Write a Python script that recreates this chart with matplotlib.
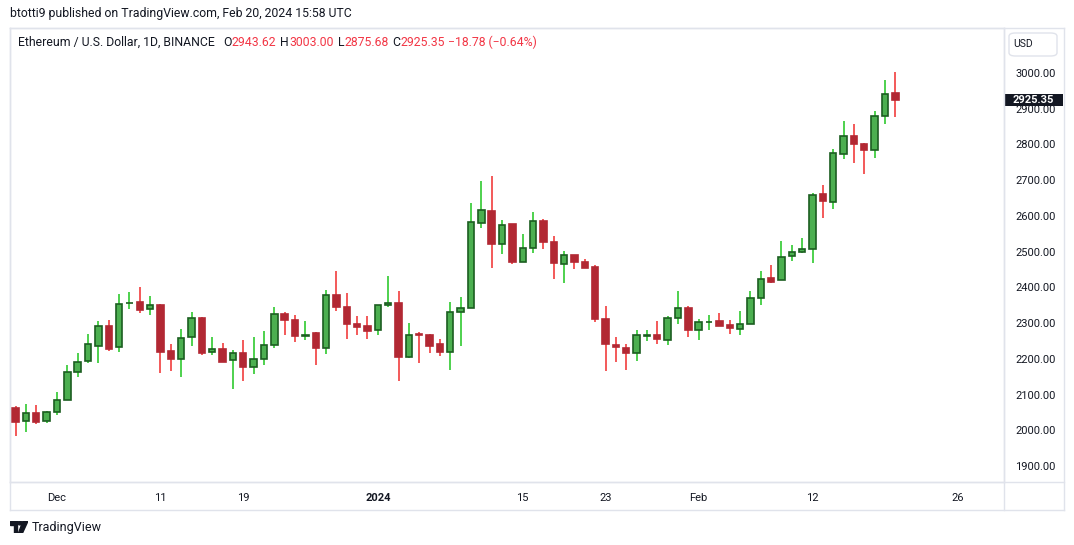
import numpy as np
import pandas as pd
import matplotlib
matplotlib.use('Agg')
import matplotlib.pyplot as plt
import matplotlib.dates as mdates
from matplotlib.patches import Rectangle, FancyBboxPatch, Circle, Polygon
from matplotlib.lines import Line2D

plt.rcParams['font.family'] = ['Roboto', 'DejaVu Sans']

# daily candles, Nov 27 2023 .. Feb 20 2024
dates = pd.date_range('2023-11-27', '2024-02-20', freq='D')

opens = [2061.4, 2025.0, 2047.4, 2025.0, 2050.2, 2083.8, 2162.2, 2193.0, 2234.9, 2290.9,
         2232.1, 2355.0, 2358.1, 2338.5, 2349.7, 2221.0, 2198.5, 2260.1, 2313.3, 2218.1,
         2226.5, 2195.8, 2215.4, 2176.2, 2198.6, 2237.8, 2324.5, 2307.7, 2262.9, 2271.3,
         2229.4, 2377.7, 2344.1, 2296.5, 2290.9, 2279.7, 2349.7, 2355.3, 2206.0, 2268.5,
         2265.7, 2240.5, 2218.2, 2330.1, 2341.3, 2579.2, 2612.8, 2520.4, 2576.4, 2470.1,
         2509.3, 2584.8, 2526.0, 2464.5, 2489.6, 2470.1, 2456.1, 2310.5, 2237.7, 2229.4,
         2215.4, 2265.0, 2265.7, 2251.7, 2313.3, 2341.3, 2279.7, 2302.1, 2304.9, 2293.7,
         2284.4, 2296.5, 2369.3, 2425.3, 2419.7, 2486.9, 2498.1, 2506.5, 2660.4, 2638.0,
         2772.4, 2822.7, 2800.4, 2783.6, 2878.7, 2943.62]
highs = [2067.9, 2073.5, 2070.7, 2053.9, 2107.1, 2182.7, 2216.3, 2269.5, 2305.8, 2308.6,
         2381.4, 2387.0, 2401.0, 2375.8, 2353.4, 2241.5, 2283.4, 2331.0, 2317.0, 2261.1,
         2244.3, 2224.7, 2252.7, 2261.1, 2277.9, 2345.0, 2330.1, 2321.7, 2305.9, 2275.1,
         2392.6, 2445.8, 2384.2, 2319.8, 2319.8, 2349.7, 2431.8, 2389.8, 2300.3, 2275.1,
         2269.5, 2255.5, 2359.0, 2373.0, 2636.1, 2697.7, 2711.7, 2588.5, 2576.4, 2549.4,
         2611.0, 2591.3, 2543.8, 2501.8, 2489.6, 2479.4, 2461.7, 2347.9, 2260.1, 2241.5,
         2279.7, 2279.7, 2304.9, 2318.9, 2388.9, 2347.8, 2311.4, 2322.7, 2328.3, 2308.6,
         2333.9, 2389.8, 2445.8, 2462.6, 2529.8, 2518.6, 2538.2, 2663.2, 2686.5, 2787.3,
         2865.6, 2857.3, 2804.1, 2893.7, 2980.4, 3003.00]
lows = [1984.9, 1995.2, 2018.5, 2021.3, 2043.7, 2083.8, 2150.0, 2189.2, 2189.2, 2222.8,
        2220.0, 2340.4, 2329.2, 2323.6, 2161.2, 2166.8, 2150.0, 2236.8, 2211.6, 2211.6,
        2192.0, 2115.5, 2138.9, 2158.5, 2183.6, 2231.2, 2267.6, 2248.0, 2253.6, 2183.6,
        2214.4, 2334.8, 2256.4, 2267.6, 2256.4, 2265.7, 2346.0, 2138.9, 2203.2, 2189.2,
        2217.2, 2208.8, 2169.6, 2236.8, 2341.3, 2567.1, 2455.1, 2494.3, 2466.3, 2470.1,
        2497.1, 2508.3, 2424.3, 2413.1, 2452.3, 2453.3, 2302.1, 2166.8, 2192.0, 2169.6,
        2194.8, 2248.9, 2240.5, 2237.7, 2296.5, 2262.0, 2252.7, 2281.6, 2292.8, 2269.5,
        2266.7, 2296.5, 2350.6, 2413.2, 2419.7, 2474.7, 2495.3, 2469.1, 2595.1, 2620.3,
        2760.2, 2749.0, 2718.3, 2763.0, 2858.2, 2875.68]
closes = [2024.1, 2047.4, 2024.1, 2050.2, 2083.8, 2162.2, 2190.1, 2240.5, 2290.9, 2228.4,
          2352.5, 2357.0, 2337.6, 2349.7, 2220.0, 2200.4, 2257.3, 2313.3, 2217.2, 2226.5,
          2192.0, 2215.3, 2176.2, 2198.6, 2237.8, 2324.5, 2307.7, 2262.9, 2267.6, 2229.4,
          2377.7, 2344.1, 2296.5, 2290.0, 2278.8, 2349.7, 2355.3, 2206.0, 2265.7, 2266.0,
          2236.8, 2220.0, 2330.1, 2341.3, 2582.0, 2615.6, 2520.4, 2573.6, 2470.1, 2509.3,
          2584.8, 2526.0, 2467.3, 2489.6, 2470.1, 2453.3, 2310.5, 2240.5, 2232.1, 2215.4,
          2265.7, 2266.5, 2254.5, 2313.3, 2341.3, 2279.7, 2302.1, 2304.0, 2292.8, 2287.2,
          2296.5, 2369.3, 2422.5, 2416.0, 2484.0, 2498.1, 2506.5, 2657.6, 2640.8, 2775.2,
          2822.7, 2800.4, 2783.6, 2878.7, 2940.3, 2925.35]

x_tick_dates = ['2023-12-01', '2023-12-11', '2023-12-19', '2024-01-01', '2024-01-15',
                '2024-01-23', '2024-02-01', '2024-02-12', '2024-02-26']
x_tick_labels = ['Dec', '11', '19', '2024', '15', '23', 'Feb', '12', '26']
y_ticks = [1900, 2000, 2100, 2200, 2300, 2400, 2500, 2600, 2700, 2800, 2900, 3000]
last_price = 2925.35

header = 'btotti9 published on TradingView.com, Feb 20, 2024 15:58 UTC'
legend_parts = [('Ethereum / U.S. Dollar, 1D, BINANCE', 'txt', 0),
                ('O', 'txt', 6), ('2943.62', 'red', 0),
                ('H', 'txt', 3), ('3003.00', 'red', 0),
                ('L', 'txt', 3), ('2875.68', 'red', 0),
                ('C', 'txt', 3), ('2925.35', 'red', 0),
                ('\u221218.78 (\u22120.64%)', 'red', 2)]

TXT = '#131722'
LINE = '#e0e3eb'
RED = '#f23645'

W, H = 1074, 545
fig = plt.figure(figsize=(W / 100, H / 100), dpi=100)
fig.patch.set_facecolor('white')


def px(x0, y0, x1, y1):
    return [x0 / W, 1 - y1 / H, (x1 - x0) / W, (y1 - y0) / H]


ax = fig.add_axes(px(10, 28, 1004, 482))

x = mdates.date2num(dates)
o = np.array(opens)
hi = np.array(highs)
lo = np.array(lows)
c = np.array(closes)
up = c >= o

wick_col = np.where(up, '#1ec51e', '#f02c2c')
body_col = np.where(up, '#4caf50', '#b22833')
edge_col = np.where(up, '#1b5e20', '#b22833')

ax.vlines(x, lo, hi, colors=wick_col, linewidth=1.1, zorder=2)
ax.bar(x, np.maximum(np.abs(c - o), 1.5), bottom=np.minimum(o, c), width=0.62,
       color=body_col, edgecolor=edge_col, linewidth=1.2, zorder=3)

dec1 = mdates.date2num(pd.Timestamp('2023-12-01'))
ax.set_xlim(dec1 - 4.54, dec1 + 91.5)
ax.set_ylim(1855.2, 3126)

ax.yaxis.tick_right()
ax.set_yticks(y_ticks)
ax.set_yticklabels([f'{v:.2f}' for v in y_ticks])
ax.tick_params(axis='y', length=0, pad=8, labelsize=8, labelcolor=TXT)

ax.set_xticks(mdates.date2num(pd.to_datetime(x_tick_dates)))
ax.set_xticklabels(x_tick_labels)
ax.tick_params(axis='x', length=0, pad=8, labelsize=8, labelcolor=TXT)
for t in ax.get_xticklabels():
    if t.get_text() == '2024':
        t.set_fontweight('bold')

for s in ax.spines.values():
    s.set_color(LINE)
    s.set_linewidth(1)

# last price marker on the price scale
ax.add_patch(Rectangle((1.0, last_price - 17), 59 / 994, 34,
                       transform=ax.get_yaxis_transform(), clip_on=False,
                       facecolor='#131722', edgecolor='none', zorder=10))
ax.text(1.0 + 29.5 / 994, last_price, f'{last_price:.2f}', transform=ax.get_yaxis_transform(),
        ha='center', va='center', color='white', fontsize=8, fontweight='bold', zorder=11)

# panel frame and separators
for (xa, ya, xb, yb) in [(10, 28, 1064, 28), (10, 510, 1064, 510), (10, 28, 10, 510),
                         (1064, 28, 1064, 510), (1004, 28, 1004, 510), (10, 482, 1064, 482)]:
    fig.add_artist(Line2D([xa / W, xb / W], [1 - ya / H, 1 - yb / H], color=LINE, lw=1))

# USD box
fig.add_artist(FancyBboxPatch((1009 / W, 1 - 56 / H), 48 / W, 23 / H,
                              boxstyle='round,pad=0,rounding_size=0.006',
                              facecolor='white', edgecolor=LINE, lw=1))
fig.text(1023 / W, 1 - 44 / H, 'USD', ha='center', va='center', fontsize=7.5, color=TXT)

# header and legend
fig.text(10 / W, 1 - 14 / H, header, ha='left', va='center', fontsize=8.8, color=TXT)

last = None
for i, (txt, kind, gap) in enumerate(legend_parts):
    if i == 0:
        last = fig.text(18 / W, 1 - 42 / H, txt, ha='left', va='center', fontsize=8.85, color=TXT)
        continue
    last = ax.annotate(txt, xy=(1, 0.5), xycoords=last, xytext=(gap, 0),
                       textcoords='offset points', ha='left', va='center',
                       fontsize=8.85, color=RED if kind == 'red' else TXT,
                       annotation_clip=False)

# TradingView footer
logo = fig.add_axes(px(10, 521, 28, 533))
logo.set_xlim(0, 18)
logo.set_ylim(0, 12)
logo.axis('off')
logo.add_patch(Rectangle((0, 8), 7, 4, color='#131722'))
logo.add_patch(Rectangle((3.5, 0), 3.5, 12, color='#131722'))
logo.add_patch(Circle((10, 10), 1.9, color='#131722'))
logo.add_patch(Polygon([[13, 12], [18, 12], [12.5, 0], [8.5, 0]], closed=True, color='#131722'))
fig.text(32 / W, 1 - 527 / H, 'TradingView', ha='left', va='center', fontsize=9, color=TXT)

fig.savefig('out.png', dpi=100, facecolor='white')
